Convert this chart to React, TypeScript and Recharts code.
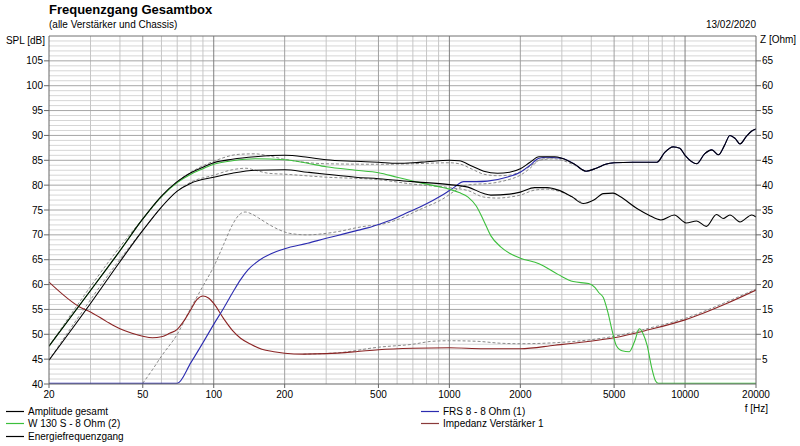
import { LineChart, Line, XAxis, YAxis, CartesianGrid } from "recharts";

// Frequenz-Achse (Hz) und Pegel-/Impedanz-Achsen
const freqTicks = [20, 50, 100, 200, 500, 1000, 2000, 5000, 10000, 20000];
const splTicks = [40, 45, 50, 55, 60, 65, 70, 75, 80, 85, 90, 95, 100, 105];
const zTicks = [5, 10, 15, 20, 25, 30, 35, 40, 45, 50, 55, 60, 65];

const minorFreqs = [30, 40, 60, 70, 80, 90, 300, 400, 600, 700, 800, 900, 3000, 4000, 6000, 7000, 8000, 9000];
const midFreqs = [50, 200, 500, 2000, 5000];
const decadeFreqs = [100, 1000, 10000];
const minorSpl = Array.from({ length: 69 }, (_, i) => 41 + i).filter((v) => v % 5 !== 0);
const majorSpl = [45, 50, 55, 60, 65, 70, 75, 80, 85, 90, 95, 100, 105];

// [Frequenz, SPL dB]
const amplitudeGesamt: [number, number][] = [
  [20, 47.6], [30, 58.8], [40, 66.8], [50, 73.2], [60, 77.8], [70, 80.7], [80, 82.5], [90, 83.6],
  [100, 84.5], [120, 85.2], [150, 85.7], [200, 86.0], [250, 85.6], [300, 85.1], [400, 84.8],
  [500, 84.6], [600, 84.4], [700, 84.5], [800, 84.7], [1000, 85.0], [1100, 84.9], [1250, 83.8],
  [1400, 82.8], [1600, 82.4], [1800, 82.6], [2000, 83.3], [2200, 84.6], [2400, 85.7], [2800, 85.7],
  [3000, 85.4], [3400, 84.2], [3800, 82.8], [4200, 83.4], [4600, 84.2], [5000, 84.5], [6000, 84.6],
  [7000, 84.6], [7600, 84.6], [8200, 86.6], [8900, 87.7], [9500, 87.4], [10000, 86.0], [11200, 84.3],
  [12100, 86.3], [13000, 87.1], [13850, 86.1], [14700, 88.0], [15500, 90.0], [16300, 89.4],
  [17100, 88.3], [18200, 89.8], [19200, 90.9], [20000, 91.3],
];

const energieFrequenzgang: [number, number][] = [
  [20, 44.8], [30, 56.2], [40, 64.6], [50, 70.9], [60, 75.6], [70, 78.8], [80, 80.4], [100, 81.6],
  [120, 82.4], [150, 83.0], [200, 83.1], [250, 82.6], [300, 82.2], [400, 81.6], [500, 81.3],
  [700, 80.7], [1000, 80.1], [1200, 79.6], [1400, 78.3], [1500, 78.0], [1800, 78.2], [2000, 78.6],
  [2300, 79.5], [2600, 79.5], [2900, 79.0], [3300, 77.7], [3700, 76.3], [4100, 77.0], [4500, 78.3],
  [4950, 78.4], [5300, 77.7], [6250, 75.3], [7000, 74.0], [7900, 73.0], [9000, 74.0], [10100, 72.4],
  [11200, 72.8], [12300, 71.7], [13600, 74.1], [14500, 73.3], [15500, 74.0], [17100, 72.6],
  [19200, 74.0], [20000, 73.6],
];

const w130s: [number, number][] = [
  [20, 47.6], [30, 58.8], [40, 66.8], [50, 73.2], [60, 77.7], [70, 80.5], [80, 82.2], [90, 83.3],
  [100, 84.2], [120, 84.9], [150, 85.3], [200, 85.1], [250, 84.4], [300, 83.7], [400, 83.0],
  [500, 82.5], [600, 81.6], [720, 80.7], [800, 80.2], [900, 79.7], [1000, 79.2], [1100, 78.5],
  [1200, 77.6], [1300, 75.8], [1400, 72.8], [1500, 69.8], [1650, 67.6], [1800, 66.3], [2000, 65.3],
  [2400, 64.2], [2900, 62.0], [3350, 60.6], [3900, 60.2], [4150, 59.4], [4300, 58.4], [4500, 57.4],
  [4700, 54.5], [4900, 50.8], [5100, 47.8], [5400, 46.7], [5800, 46.5], [6100, 48.5], [6400, 51.1],
  [6650, 50.0], [6900, 47.8], [7200, 43.5], [7500, 40.6], [7700, 40.15], [20000, 40.15],
];

const frs8: [number, number][] = [
  [20, 40.15], [70, 40.15], [80, 44.3], [90, 48.3], [100, 52.0], [110, 55.2], [120, 58.3], [130, 61.0],
  [140, 63.0], [156, 64.9], [175, 66.2], [200, 67.2], [250, 68.3], [300, 69.3], [350, 70.1],
  [400, 70.8], [450, 71.4], [500, 72.1], [580, 73.2], [650, 74.3], [750, 75.6], [850, 76.9],
  [950, 78.2], [1050, 79.6], [1150, 80.7], [1300, 80.7], [1450, 80.8], [1750, 81.6], [2000, 82.6],
  [2200, 84.0], [2400, 85.4], [2600, 85.6], [2850, 85.5], [3000, 85.4], [3400, 84.2], [3800, 82.8],
  [4200, 83.4], [4600, 84.2], [5000, 84.5], [6000, 84.6], [7000, 84.6], [7600, 84.6], [8200, 86.6],
  [8900, 87.7], [9500, 87.4], [10000, 86.0], [11200, 84.3], [12100, 86.3], [13000, 87.1],
  [13850, 86.1], [14700, 88.0], [15500, 90.0], [16300, 89.4], [17100, 88.3], [18200, 89.8],
  [19200, 90.9], [20000, 91.3],
];

// [Frequenz, Ohm]
const impedanz: [number, number][] = [
  [20, 20.5], [27, 15.5], [30, 14.5], [35, 12.6], [40, 11.1], [45, 10.2], [50, 9.6], [55, 9.3],
  [60, 9.5], [65, 10.2], [70, 11.0], [75, 12.8], [80, 15.0], [85, 17.0], [90, 17.7], [95, 17.3],
  [100, 16.2], [110, 13.2], [120, 10.8], [130, 9.2], [145, 7.9], [160, 7.0], [180, 6.5], [200, 6.2],
  [240, 6.0], [300, 6.1], [400, 6.5], [500, 6.9], [700, 7.2], [1000, 7.3], [1400, 7.1], [2000, 7.1],
  [2800, 7.8], [3800, 8.5], [5000, 9.3], [7000, 10.9], [10000, 12.9], [15000, 16.2], [20000, 18.9],
];

// gestrichelte Vergleichskurven (ohne Legende)
const gesamtAlt: [number, number][] = [
  [20, 47.6], [50, 73.2], [70, 80.7], [80, 82.6], [100, 84.8], [128, 86.2], [150, 86.3],
  [170, 85.9], [200, 85.2], [300, 84.3], [500, 84.2], [700, 84.3], [1000, 84.5], [1100, 84.3],
  [1250, 83.2], [1400, 82.2], [1600, 81.9], [1800, 82.0], [2000, 82.7], [2200, 83.8], [2400, 85.0],
  [2800, 85.3], [3000, 85.0], [3400, 84.0], [3800, 82.8], [4200, 83.4], [4600, 84.2], [5000, 84.5],
];

const energieAlt: [number, number][] = [
  [20, 44.8], [50, 70.9], [70, 78.8], [80, 80.6], [100, 82.0], [120, 83.1], [137, 83.4], [150, 83.0],
  [170, 82.4], [200, 82.2], [300, 81.6], [500, 81.1], [700, 80.2], [1000, 79.5], [1200, 78.9],
  [1400, 77.6], [1600, 77.4], [1800, 77.6], [2000, 78.0], [2300, 79.0], [2600, 79.2], [2900, 78.8],
  [3300, 77.7], [3700, 76.3],
];

const frsAlt: [number, number][] = [
  [50, 40.15], [55, 42.9], [60, 45.6], [70, 50.0], [80, 55.3], [90, 59.7], [100, 63.6], [110, 68.0],
  [120, 72.0], [128, 74.0], [136, 74.6], [145, 74.2], [155, 73.4], [170, 72.2], [190, 71.0],
  [210, 70.3], [250, 70.0], [300, 70.3], [350, 70.8], [400, 71.4], [450, 71.8], [500, 72.0],
  [580, 72.8], [750, 75.1], [950, 77.4], [1050, 78.8], [1150, 79.9], [1300, 80.2], [1450, 80.3],
  [1750, 81.0], [2000, 82.0], [2200, 83.4], [2400, 85.0], [2600, 85.4], [2850, 85.5],
];

const impedanzAlt: [number, number][] = [
  [240, 6.0], [340, 6.3], [500, 7.4], [700, 8.0], [850, 8.6], [1000, 8.7], [1300, 8.6], [1650, 8.2],
  [2000, 8.1], [2800, 8.3], [3800, 8.8], [5000, 9.6], [7000, 11.2], [10000, 13.2], [15000, 16.5],
  [20000, 19.1],
];

const toRows = (pts: [number, number][]) => pts.map(([f, v]) => ({ f, v }));

const FONT = "'Liberation Sans', Arial, sans-serif";
const tickStyle = { fontSize: 10, fill: "#000", fontFamily: FONT };

const legendLeft = [
  { name: "Amplitude gesamt", color: "#000" },
  { name: "W 130 S - 8 Ohm (2)", color: "#3cbf3c" },
  { name: "Energiefrequenzgang", color: "#000" },
];
const legendRight = [
  { name: "FRS 8 - 8 Ohm (1)", color: "#2b2bb0" },
  { name: "Impedanz Verstärker 1", color: "#8a3a3a" },
];

function LegendColumn({ items, left }: { items: { name: string; color: string }[]; left: number }) {
  return (
    <div style={{ position: "absolute", left, top: 405 }}>
      {items.map((it) => (
        <div key={it.name} style={{ display: "flex", alignItems: "center", height: 12.5, fontSize: 10 }}>
          <svg width={18} height={3} style={{ marginRight: 4 }}>
            <line x1={0} x2={18} y1={1.5} y2={1.5} stroke={it.color} strokeWidth={1.2} />
          </svg>
          {it.name}
        </div>
      ))}
    </div>
  );
}

export default function App() {
  const dashed = { stroke: "#8a8a8a", strokeDasharray: "3 2", strokeWidth: 1, dot: false, isAnimationActive: false };
  return (
    <div style={{ position: "absolute", left: 0, top: 0, width: 800, height: 446, background: "#fff", fontFamily: FONT, color: "#000" }}>
      <LineChart width={800} height={446} margin={{ top: 36, right: 0, left: 0, bottom: 0 }}>
        <CartesianGrid yAxisId="spl" vertical={false} horizontalValues={minorSpl} stroke="#d6d6d6" fill="none" />
        <CartesianGrid yAxisId="spl" horizontal={false} verticalValues={minorFreqs} stroke="#c6c6c6" fill="none" />
        <CartesianGrid yAxisId="spl" vertical={false} horizontalValues={majorSpl} stroke="#a6a6a6" fill="none" />
        <CartesianGrid yAxisId="spl" horizontal={false} verticalValues={midFreqs} stroke="#a0a0a0" fill="none" />
        <CartesianGrid yAxisId="spl" horizontal={false} verticalValues={decadeFreqs} stroke="#808080" fill="none" />
        <CartesianGrid yAxisId="spl" vertical={false} horizontalValues={[110]} stroke="#707070" fill="none" />
        <XAxis
          type="number"
          dataKey="f"
          scale="log"
          domain={[20, 20000]}
          ticks={freqTicks}
          interval={0}
          allowDataOverflow
          height={62}
          tickSize={4}
          tickMargin={3}
          tick={tickStyle}
          axisLine={{ stroke: "#666" }}
          tickLine={{ stroke: "#666" }}
        />
        <YAxis
          yAxisId="spl"
          type="number"
          domain={[40, 110]}
          ticks={splTicks}
          interval={0}
          allowDataOverflow
          width={49}
          tickSize={5}
          tickMargin={1}
          tick={tickStyle}
          axisLine={{ stroke: "#666" }}
          tickLine={{ stroke: "#666" }}
        />
        <YAxis
          yAxisId="z"
          orientation="right"
          type="number"
          domain={[0, 70]}
          ticks={zTicks}
          interval={0}
          allowDataOverflow
          width={44}
          tickSize={5}
          tickMargin={1}
          tick={tickStyle}
          axisLine={{ stroke: "#666" }}
          tickLine={{ stroke: "#666" }}
        />

        <Line yAxisId="spl" data={toRows(gesamtAlt)} dataKey="v" type="monotone" {...dashed} />
        <Line yAxisId="spl" data={toRows(energieAlt)} dataKey="v" type="monotone" {...dashed} />
        <Line yAxisId="spl" data={toRows(frsAlt)} dataKey="v" type="monotone" {...dashed} />
        <Line yAxisId="z" data={toRows(impedanzAlt)} dataKey="v" type="monotone" {...dashed} />

        <Line yAxisId="z" data={toRows(impedanz)} dataKey="v" type="monotone" stroke="#8b2424" strokeWidth={1.1} dot={false} isAnimationActive={false} />
        <Line yAxisId="spl" data={toRows(frs8)} dataKey="v" type="monotone" stroke="#2b2bb0" strokeWidth={1.1} dot={false} isAnimationActive={false} />
        <Line yAxisId="spl" data={toRows(w130s)} dataKey="v" type="monotone" stroke="#3cbf3c" strokeWidth={1.1} dot={false} isAnimationActive={false} />
        <Line yAxisId="spl" data={toRows(energieFrequenzgang)} dataKey="v" type="monotone" stroke="#000" strokeWidth={1.1} dot={false} isAnimationActive={false} />
        <Line yAxisId="spl" data={toRows(amplitudeGesamt)} dataKey="v" type="monotone" stroke="#000" strokeWidth={1.1} dot={false} isAnimationActive={false} />
      </LineChart>

      <div style={{ position: "absolute", left: 49, top: 2, fontSize: 13, fontWeight: "bold" }}>Frequenzgang Gesamtbox</div>
      <div style={{ position: "absolute", left: 49, top: 19, fontSize: 10 }}>(alle Verstärker und Chassis)</div>
      <div style={{ position: "absolute", right: 44, top: 19, fontSize: 10 }}>13/02/2020</div>
      <div style={{ position: "absolute", right: 755, top: 35, fontSize: 10, whiteSpace: "nowrap" }}>SPL [dB]</div>
      <div style={{ position: "absolute", left: 760, top: 34, fontSize: 10, whiteSpace: "nowrap" }}>Z [Ohm]</div>
      <div style={{ position: "absolute", right: 32, top: 403, fontSize: 10 }}>f [Hz]</div>

      <LegendColumn items={legendLeft} left={6} />
      <LegendColumn items={legendRight} left={421} />
    </div>
  );
}
